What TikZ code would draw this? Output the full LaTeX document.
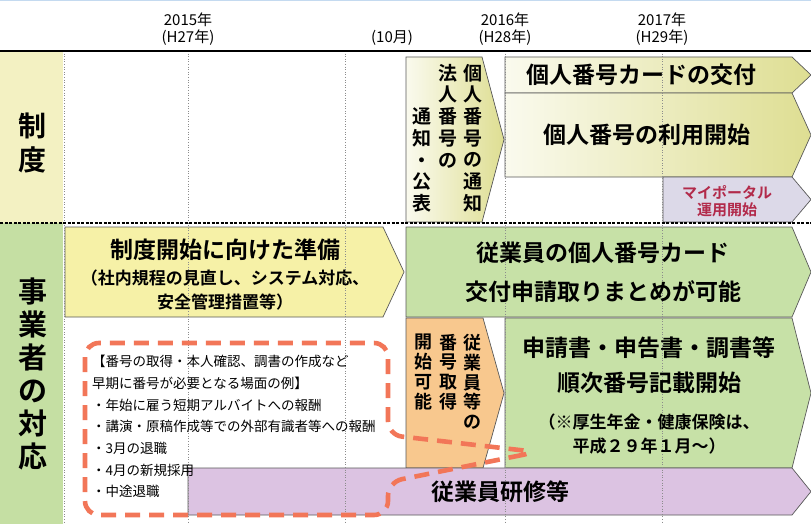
\documentclass[tikz,border=0pt]{standalone}
\usepackage{fontspec}
\setmainfont{Noto Sans CJK JP}[BoldFont={Noto Sans CJK JP Bold}]
\definecolor{colsys}{HTML}{F3F1C2}
\definecolor{colbiz}{HTML}{C5DFA3}
\definecolor{toplight}{HTML}{FAFAEE}
\definecolor{topdark}{HTML}{DEDE92}
\definecolor{prepyellow}{HTML}{F6F1A7}
\definecolor{bizgreen}{HTML}{C7E1A7}
\definecolor{getorange}{HTML}{F8C88E}
\definecolor{trainpurple}{HTML}{DCC3E2}
\definecolor{portalgray}{HTML}{DCD9E8}
\definecolor{portalred}{HTML}{B22A4A}
\definecolor{calloutred}{HTML}{F27658}
\definecolor{frameblue}{HTML}{C4DAF0}
\newcommand{\arrowbox}[6]{\draw[#1] (#2,#3) -- (#4,#3) -- (#6,{(#3+#5)/2}) -- (#4,#5) -- (#2,#5) -- cycle;}

\begin{document}
\begin{tikzpicture}[x=1pt,y=-1pt,
            boxline/.style={draw=black!65,line width=0.7pt},
            topbox/.style={boxline,left color=toplight,right color=topdark},
            gridline/.style={black!45,line width=0.6pt,dotted},
            ttl/.style={font=\bfseries\fontsize{23}{28}\selectfont,inner sep=0pt},
            subtxt/.style={font=\bfseries\fontsize{17}{24}\selectfont,inner sep=0pt,align=center},
            vcol/.style={font=\bfseries\fontsize{19}{21.7}\selectfont,align=center,inner sep=0pt},
            ocol/.style={font=\bfseries\fontsize{18}{19.7}\selectfont,align=center,inner sep=0pt},
            yr/.style={font=\fontsize{15}{17}\selectfont,align=center,inner sep=0pt},
            callout/.style={draw=calloutred,line width=4.6pt,dash pattern=on 15pt off 9pt,rounded corners=14pt}]
            \useasboundingbox (0,0) rectangle (811,524);
            \fill[white] (0,0) rectangle (811,524);
            \draw[frameblue,line width=1.5pt] (0,0.75) -- (811,0.75);
            \fill[colsys] (0,51) rectangle (63,223);
            \fill[colbiz] (0,223) rectangle (63,524);
            \arrowbox{topbox}{406}{57}{482}{222}{504}
            \arrowbox{topbox}{505}{57}{792}{93}{811}
            \arrowbox{topbox}{505}{93}{792}{177}{811}
            \arrowbox{boxline,fill=portalgray}{663}{177}{792}{222}{811}
            \arrowbox{boxline,fill=prepyellow}{65}{227}{383}{317}{404}
            \arrowbox{boxline,fill=bizgreen}{406}{227}{792}{317}{811}
            \arrowbox{boxline,fill=getorange}{406}{318}{483}{468}{504}
            \arrowbox{boxline,fill=bizgreen}{505}{318}{792}{468}{811}
            \arrowbox{boxline,fill=trainpurple}{188}{468}{792}{515}{811}
            \foreach \gx in {64,188,345,505,662} \draw[gridline] (\gx,51) -- (\gx,524);
            \draw[line width=2.2pt] (0,51) -- (811,51);
            \draw[line width=1.5pt,dash pattern=on 3pt off 1.5pt] (0,223) -- (811,223);
            \node[yr] (y2015) at (188,29) {2015年\\(H27年)};
            \node[yr] (oct) at (392,38) {(10月)};
            \node[yr] (y2016) at (505,29) {2016年\\(H28年)};
            \node[yr] (y2017) at (662,29) {2017年\\(H29年)};
            \node[font=\bfseries\fontsize{28}{33}\selectfont,align=center,inner sep=0pt] (sys) at (33,143) {制\\度};
            \node[font=\bfseries\fontsize{29}{33}\selectfont,align=center,inner sep=0pt] (biz) at (33,374) {事\\業\\者\\の\\対\\応};
            \node[vcol] (corp1) at (473,138) {個\\人\\番\\号\\の\\通\\知};
            \node[vcol] (corp2) at (448,116) {法\\人\\番\\号\\の};
            \node[vcol] (corp3) at (422,160) {通\\知\\・\\公\\表};
            \node[ttl] (card) at (641,75) {個人番号カードの交付};
            \node[ttl] (use) at (647,135) {個人番号の利用開始};
            \node[font=\bfseries\fontsize{15}{17}\selectfont,text=portalred,align=center,inner sep=0pt] (portal) at (727,201) {マイポータル\\運用開始};
            \node[ttl] (prep) at (225,250) {制度開始に向けた準備};
            \node[subtxt] (prepsub) at (225,290) {（社内規程の見直し、システム対応、\\安全管理措置等）};
            \node[ttl] (cardapp1) at (603,253) {従業員の個人番号カード};
            \node[ttl] (cardapp2) at (603,292) {交付申請取りまとめが可能};
            \node[ocol] (get1) at (472,382) {従\\業\\員\\等\\の};
            \node[ocol] (get2) at (448,372) {番\\号\\取\\得};
            \node[ocol] (get3) at (423,372) {開\\始\\可\\能};
            \node[ttl] (forms1) at (649,348) {申請書・申告書・調書等};
            \node[ttl] (forms2) at (649,383) {順次番号記載開始};
            \node[subtxt] (formsnote) at (649,434) {（※厚生年金・健康保険は、\\平成２９年１月～）};
            \node[ttl] (train) at (500,492) {従業員研修等};
            \draw[callout] (537,452) -- (388,482) -- (388,515) -- (85,515) -- (85,343) -- (388,343) -- (388,435) -- cycle;
            \node[font=\fontsize{13.5}{21.7}\selectfont,align=left,anchor=north west,inner sep=0pt] (cases) at (92,355) {【番号の取得・本人確認、調書の作成など\\早期に番号が必要となる場面の例】\\・年始に雇う短期アルバイトへの報酬\\・講演・原稿作成等での外部有識者等への報酬\\・3月の退職\\・4月の新規採用\\・中途退職};
        \end{tikzpicture}
\end{document}
